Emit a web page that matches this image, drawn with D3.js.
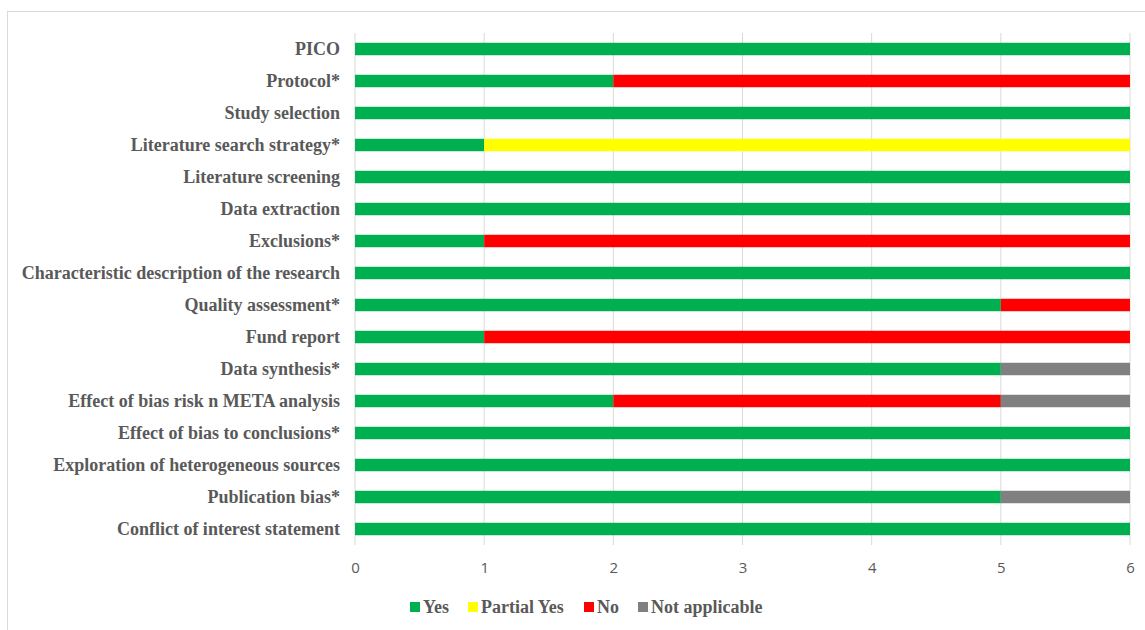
<!DOCTYPE html>
<html>
<head>
<meta charset="utf-8">
<script src="https://cdn.jsdelivr.net/npm/d3@7"></script>
<style>
  body { margin: 0; background: #fff; }
</style>
</head>
<body>
<script>
const items = [
  "PICO", "Protocol*", "Study selection", "Literature search strategy*",
  "Literature screening", "Data extraction", "Exclusions*",
  "Characteristic description of the research", "Quality assessment*",
  "Fund report", "Data synthesis*", "Effect of bias risk n META analysis",
  "Effect of bias to conclusions*", "Exploration of heterogeneous sources",
  "Publication bias*", "Conflict of interest statement"
];
const yes        = [6, 2, 6, 1, 6, 6, 1, 6, 5, 1, 5, 2, 6, 6, 5, 6];
const partialYes = [0, 0, 0, 5, 0, 0, 0, 0, 0, 0, 0, 0, 0, 0, 0, 0];
const no         = [0, 4, 0, 0, 0, 0, 5, 0, 1, 5, 0, 3, 0, 0, 0, 0];
const notApplic  = [0, 0, 0, 0, 0, 0, 0, 0, 0, 0, 1, 1, 0, 0, 1, 0];
const seriesNames = ["Yes", "Partial Yes", "No", "Not applicable"];
const colors = ["#00B050", "#FFFF00", "#FF0000", "#808080"];
const xTicks = [0, 1, 2, 3, 4, 5, 6];

const width = 1145, height = 630;
const plotLeft = 355, plotRight = 1130, plotTop = 33, plotBottom = 545;

const svg = d3.select("body").append("svg")
  .attr("width", width).attr("height", height);

// outer frame
svg.append("rect")
  .attr("x", 7.5).attr("y", 11.5)
  .attr("width", 1150).attr("height", 630)
  .attr("fill", "none").attr("stroke", "#d9d9d9");

const x = d3.scaleLinear().domain([0, 6]).range([plotLeft, plotRight]);
const y = d3.scaleBand().domain(items).range([plotTop, plotBottom]).paddingInner(0.61).paddingOuter(0.305);

// grid
svg.append("g").selectAll("line")
  .data(xTicks).enter().append("line")
  .attr("x1", d => x(d)).attr("x2", d => x(d))
  .attr("y1", plotTop).attr("y2", plotBottom)
  .attr("stroke", "#d9d9d9").attr("stroke-width", 1);

const table = items.map((name, i) => ({
  name, values: [yes[i], partialYes[i], no[i], notApplic[i]]
}));

const stack = d3.stack().keys([0, 1, 2, 3]).value((d, k) => d.values[k]);
const layers = stack(table);

svg.append("g").selectAll("g")
  .data(layers).enter().append("g")
  .attr("fill", (d, i) => colors[i])
  .selectAll("rect")
  .data(d => d).enter().append("rect")
  .attr("x", d => x(d[0]))
  .attr("width", d => x(d[1]) - x(d[0]))
  .attr("y", d => y(d.data.name))
  .attr("height", y.bandwidth());

// category labels
svg.append("g").selectAll("text")
  .data(items).enter().append("text")
  .attr("x", plotLeft - 15)
  .attr("y", d => y(d) + y.bandwidth() / 2)
  .attr("dy", "0.35em")
  .attr("text-anchor", "end")
  .attr("font-family", "'Liberation Serif', 'Times New Roman', serif")
  .attr("font-weight", "bold")
  .attr("font-size", 18)
  .attr("fill", "#595959")
  .text(d => d);

// x axis
const xAxis = svg.append("g")
  .attr("transform", `translate(0, ${plotBottom})`)
  .call(d3.axisBottom(x).tickValues(xTicks).tickSize(0).tickPadding(17).tickFormat(d3.format("d")));
xAxis.select(".domain").remove();
xAxis.selectAll("text")
  .attr("font-family", "'Open Sans', 'Liberation Sans', sans-serif")
  .attr("font-size", 15)
  .attr("fill", "#595959");

// legend
const legendX = [410, 468, 584, 638];
const legend = svg.append("g").selectAll("g")
  .data(seriesNames).enter().append("g")
  .attr("transform", (d, i) => `translate(${legendX[i]}, 607)`);
legend.append("rect")
  .attr("x", 0).attr("y", -5).attr("width", 10).attr("height", 10)
  .attr("fill", (d, i) => colors[i]);
legend.append("text")
  .attr("x", 13).attr("y", 0).attr("dy", "0.35em")
  .attr("font-family", "'Liberation Serif', 'Times New Roman', serif")
  .attr("font-weight", "bold")
  .attr("font-size", 18)
  .attr("fill", "#595959")
  .text(d => d);
</script>
</body>
</html>
